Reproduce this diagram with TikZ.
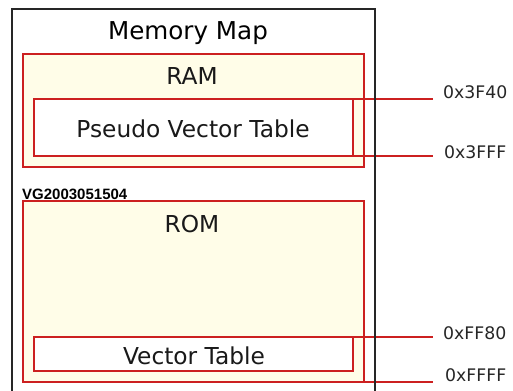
\documentclass[tikz,border=0pt]{standalone}
\usepackage{fontspec}
\setmainfont{DejaVu Sans}
\newfontfamily\vgfont{Liberation Sans}
\definecolor{mred}{RGB}{204,32,32}
\definecolor{cream}{RGB}{255,253,232}
\tikzset{
  frame/.style={draw=black!85,line width=1.4bp,inner sep=0,outer sep=0},
  membox/.style={draw=mred,fill=cream,line width=1.3bp,inner sep=0,outer sep=0,minimum width=341bp},
  tablebox/.style={draw=mred,fill=white,line width=1.3bp,inner sep=0,outer sep=0,minimum width=319bp},
  addrline/.style={draw=mred,line width=1.3bp},
  bigtext/.style={inner sep=0,anchor=base,text=black!90,font=\fontsize{23.3bp}{27bp}\selectfont},
  addrtext/.style={inner sep=0,anchor=base west,text=black!85,font=\fontsize{17.3bp}{20bp}\selectfont},
  vgtext/.style={inner sep=0,anchor=base west,font=\vgfont\bfseries\fontsize{15bp}{18bp}\selectfont}
}
\begin{document}
\begin{tikzpicture}[x=1bp,y=-1bp]
\fill[white] (0,0) rectangle (513,390);
\clip (0,0) rectangle (513,390);
\node[frame,fill=white,minimum width=363bp,minimum height=392bp] (map) at (193.5,205) {};
\node[membox,minimum height=113bp] (ram) at (193.5,110.5) {};
\node[tablebox,minimum height=57bp] (pvt) at (193.5,127.5) {};
\node[membox,minimum height=181bp] (rom) at (193.5,291.5) {};
\node[tablebox,minimum height=34bp] (vt) at (193.5,354) {};
\node[bigtext,text=black,font=\fontsize{24.6bp}{28bp}\selectfont] (title) at (188,39) {Memory Map};
\node[bigtext] (ramt) at (192,84) {RAM};
\node[bigtext] (pvtt) at (193,137.3) {Pseudo Vector Table};
\node[bigtext] (romt) at (192,232.3) {ROM};
\node[bigtext] (vtt) at (194,364) {Vector Table};
\node[vgtext] (vg) at (22,199) {VG2003051504};
\coordinate (rx) at (433,0);
\draw[addrline] (pvt.north east) -- (pvt.north east -| rx);
\draw[addrline] (pvt.south east) -- (pvt.south east -| rx);
\draw[addrline] (vt.north east) -- (vt.north east -| rx);
\draw[addrline] (rom.south east) -- (rom.south east -| rx);
\draw[black!85,line width=1.4bp] (map.north east) -- (map.south east);
\node[addrtext] (a1) at (443,98.3) {0x3F40};
\node[addrtext] (a2) at (444,158) {0x3FFF};
\node[addrtext] (a3) at (443,339.3) {0xFF80};
\node[addrtext] (a4) at (445,381.7) {0xFFFF};
\end{tikzpicture}
\end{document}
